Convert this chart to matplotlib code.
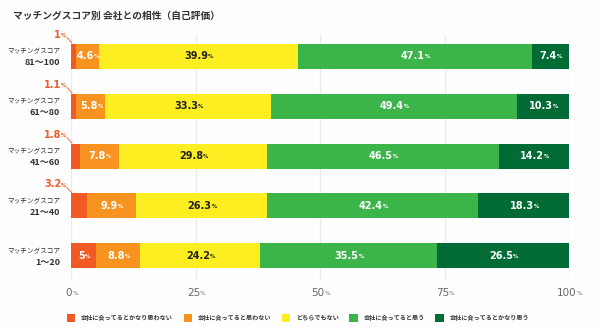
import matplotlib
matplotlib.use('Agg')
import matplotlib.pyplot as plt
from matplotlib.patches import Patch
from matplotlib.transforms import offset_copy

plt.rcParams['font.family'] = ['Noto Sans CJK JP', 'DejaVu Sans']

title = 'マッチングスコア別 会社との相性（自己評価）'
groups = ['81〜100', '61〜80', '41〜60', '21〜40', '1〜20']
group_prefix = 'マッチングスコア'
categories = ['会社に合ってるとかなり思わない', '会社に合ってると思わない', 'どちらでもない',
              '会社に合ってると思う', '会社に合ってるとかなり思う']
very_not = [1, 1.1, 1.8, 3.2, 5]
not_fit = [4.6, 5.8, 7.8, 9.9, 8.8]
neutral = [39.9, 33.3, 29.8, 26.3, 24.2]
fit = [47.1, 49.4, 46.5, 42.4, 35.5]
very_fit = [7.4, 10.3, 14.2, 18.3, 26.5]
ticks = [0, 25, 50, 75, 100]

series = [very_not, not_fit, neutral, fit, very_fit]
colors = ['#F15A24', '#F7931E', '#FCEE21', '#3BB44A', '#006B35']
text_colors = ['white', 'white', '#222222', 'white', 'white']
num_font = ['Liberation Sans Narrow', 'DejaVu Sans']


def pct_label(ax, x, y, num, color, size, ha='center', transform=None, weight='bold'):
    if transform is None:
        transform = ax.transData
    if ha == 'center':
        transform = offset_copy(transform, fig=ax.figure, x=-1.5, units='points')
        t = ax.text(x, y, num, ha='center', va='center', color=color, fontsize=size,
                    fontweight=weight, family=num_font, transform=transform, clip_on=False)
        ax.annotate('%', xy=(1, 0.22), xycoords=t, ha='left', va='bottom', color=color,
                    fontsize=size * 0.55, fontweight=weight, family=num_font)
    else:
        t = ax.text(x, y, '%', ha='right', va='center', color=color, fontsize=size * 0.55,
                    fontweight=weight, family=num_font, transform=transform, clip_on=False)
        ax.annotate(num, xy=(0, -0.3), xycoords=t, ha='right', va='bottom', color=color,
                    fontsize=size, fontweight=weight, family=num_font)


fig = plt.figure(figsize=(6, 3.27), dpi=100)
fig.patch.set_facecolor('#FDFEFD')
ax = fig.add_axes([71 / 600, 47 / 327, 498 / 600, 245 / 327])
ax.set_facecolor('#FDFEFD')

rows = list(range(len(groups)))
left = [0] * len(groups)
for s, c, tc in zip(series, colors, text_colors):
    ax.barh(rows, s, left=left, height=0.5, color=c, edgecolor='none', zorder=2)
    for i, v in enumerate(s):
        if v >= 4:
            pct_label(ax, left[i] + v / 2, i, f'{v:g}', tc, 7)
        else:
            pct_label(ax, -0.9, i - 0.41, f'{v:g}', '#F15A24', 7, ha='right')
            ax.plot([-0.8, 0.2], [i - 0.37, i - 0.26], color='#F15A24', lw=0.6,
                    clip_on=False, zorder=3)
    left = [a + b for a, b in zip(left, s)]

ax.set_xlim(0, 100)
ax.set_ylim(4.48, -0.42)
for x in ticks:
    ax.axvline(x, color='#ECEAF1', lw=1, zorder=1)
    pct_label(ax, x, 4.74, str(x), '#666666', 7.5, weight='normal')

for i, g in enumerate(groups):
    ax.text(-2.2, i - 0.1, group_prefix, ha='right', va='center', fontsize=4.8,
            color='#333333', clip_on=False)
    ax.text(-2.2, i + 0.13, g, ha='right', va='center', fontsize=6.5, fontweight='bold',
            color='#333333', clip_on=False)

ax.set_xticks([])
ax.set_yticks([])
for sp in ax.spines.values():
    sp.set_visible(False)

fig.text(13 / 600, 1 - 16 / 327, title, ha='left', va='center', fontsize=7,
         fontweight='bold', color='#333333')

handles = [Patch(facecolor=c, edgecolor='none') for c in colors]
fig.legend(handles, categories, loc='center', bbox_to_anchor=(0.497, 1 - 318 / 327), ncol=5,
           frameon=False, prop={'size': 4.4, 'weight': 'bold'}, handlelength=1.35,
           handleheight=1.5, columnspacing=1.7, handletextpad=1.0, labelcolor='#333333')

fig.savefig('out.png', dpi=100, facecolor=fig.get_facecolor())
